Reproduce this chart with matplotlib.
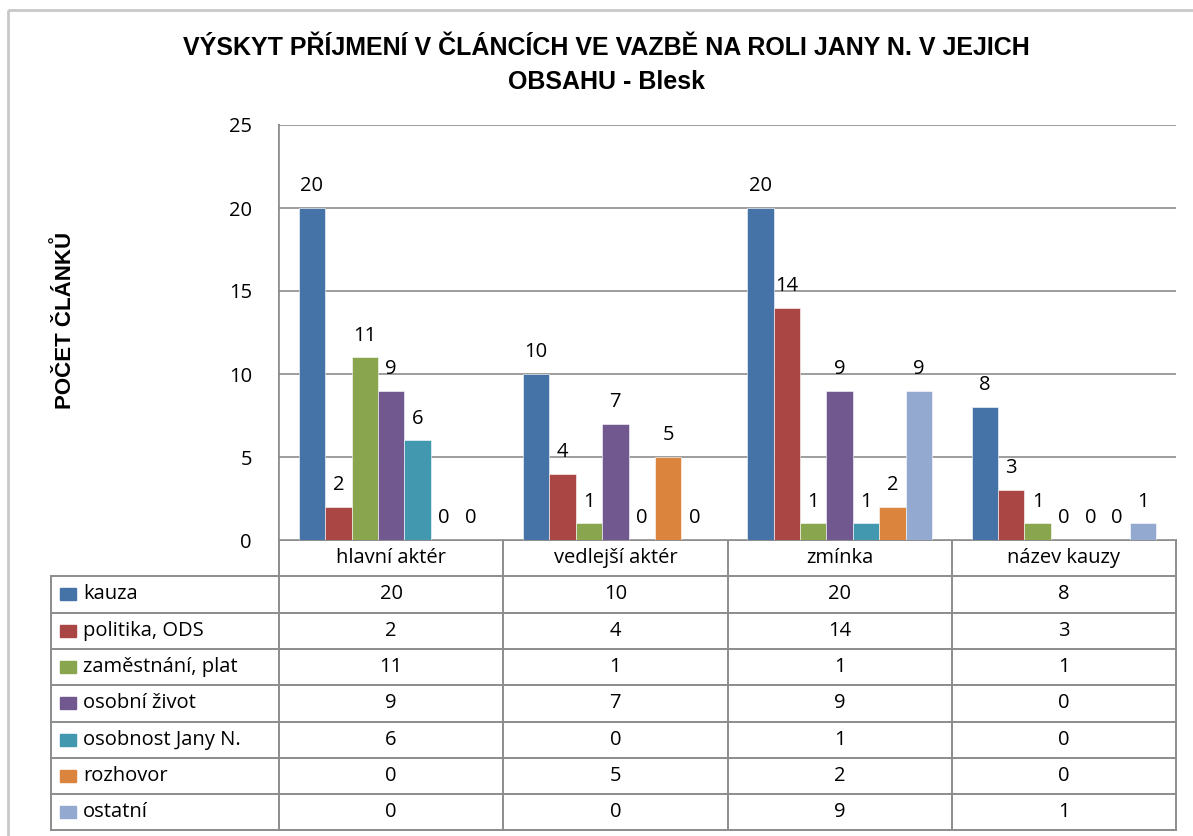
import matplotlib.pyplot as plt
from matplotlib.patches import Rectangle

# chart data
categories = ["hlavní aktér", "vedlejší aktér", "zmínka", "název kauzy"]
series_names = ["kauza", "politika, ODS", "zaměstnání, plat", "osobní život",
                "osobnost Jany N.", "rozhovor", "ostatní"]
kauza = [20, 10, 20, 8]
politika = [2, 4, 14, 3]
zamestnani = [11, 1, 1, 1]
osobni_zivot = [9, 7, 9, 0]
osobnost = [6, 0, 1, 0]
rozhovor = [0, 5, 2, 0]
ostatni = [0, 0, 9, 1]
series_values = [kauza, politika, zamestnani, osobni_zivot, osobnost, rozhovor, ostatni]
colors = ["#4572A7", "#AA4643", "#89A54E", "#71588F", "#4198AF", "#DB843D", "#93A9CF"]
y_ticks = [0, 5, 10, 15, 20, 25]

TITLE = "VÝSKYT PŘÍJMENÍ V ČLÁNCÍCH VE VAZBĚ NA ROLI JANY N. V JEJICH\nOBSAHU - Blesk"
YLABEL = "POČET ČLÁNKŮ"

BODY = ["Open Sans", "DejaVu Sans"]
BOLD = ["Liberation Sans", "DejaVu Sans"]
GRID = "#8c8c8c"
FS = 14.5

W, H = 1193, 836
fig = plt.figure(figsize=(W / 100, H / 100), dpi=100)

# layout in pixels
px_left, px_right = 279, 1176
px_top, px_zero = 125, 540
row_h = 36.3
leg_left = 51

ax = fig.add_axes([px_left / W, 1 - px_zero / H,
                   (px_right - px_left) / W, (px_zero - px_top) / H])
n_ser = len(series_values)
bw = 1 / (n_ser + 1.5)
for i, (vals, col) in enumerate(zip(series_values, colors)):
    xs = [c + (i - (n_ser - 1) / 2) * bw for c in range(len(categories))]
    bars = ax.bar(xs, vals, width=bw, color=col, edgecolor="white",
                  linewidth=0.4, zorder=3)
    for b, v in zip(bars, vals):
        ax.annotate(str(v), (b.get_x() + b.get_width() / 2, v),
                    xytext=(0, 8.5), textcoords="offset points",
                    ha="center", va="bottom", fontsize=FS, family=BODY)

ax.set_xlim(-0.5, len(categories) - 0.5)
ax.set_ylim(0, 25)
ax.set_yticks(y_ticks)
ax.set_yticklabels([str(t) for t in y_ticks], fontsize=FS, family=BODY)
ax.tick_params(axis="y", length=0, pad=19.5)
ax.tick_params(axis="x", length=0, labelbottom=False)
ax.yaxis.grid(True, color=GRID, linewidth=1.2, zorder=0)
for s in ["top", "right", "bottom"]:
    ax.spines[s].set_visible(False)
ax.spines["left"].set_color(GRID)
ax.spines["left"].set_linewidth(1.2)

# overlay in pixel coordinates for the data table and frame
lay = fig.add_axes([0, 0, 1, 1], zorder=-1)
lay.set_xlim(0, W)
lay.set_ylim(H, 0)
lay.axis("off")
lay.add_patch(Rectangle((8, 10), W, H, fill=False, edgecolor="#c8c8c8", linewidth=2))

col_w = (px_right - px_left) / len(categories)
hdr_bottom = px_zero + row_h
tbl_bottom = hdr_bottom + row_h * n_ser
lw = 1.4

# horizontal rules
lay.plot([px_left, px_right], [px_zero, px_zero], color=GRID, lw=lw)
for r in range(n_ser + 1):
    y = hdr_bottom + r * row_h
    lay.plot([leg_left, px_right], [y, y], color=GRID, lw=lw)
# vertical rules
lay.plot([leg_left, leg_left], [hdr_bottom, tbl_bottom], color=GRID, lw=lw)
for c in range(len(categories) + 1):
    x = px_left + c * col_w
    lay.plot([x, x], [px_zero if c else px_top, tbl_bottom], color=GRID, lw=lw)

for c, name in enumerate(categories):
    lay.text(px_left + (c + 0.5) * col_w, px_zero + row_h / 2, name,
             ha="center", va="center", fontsize=FS, family=BODY)

for r, (name, vals, col) in enumerate(zip(series_names, series_values, colors)):
    yc = hdr_bottom + (r + 0.5) * row_h
    lay.add_patch(Rectangle((leg_left + 9, yc - 6), 16, 12, color=col))
    lay.text(leg_left + 32, yc, name, ha="left", va="center", fontsize=FS, family=BODY)
    for c, v in enumerate(vals):
        lay.text(px_left + (c + 0.5) * col_w, yc, str(v),
                 ha="center", va="center", fontsize=FS, family=BODY)

fig.text(606 / W, 1 - 65 / H, TITLE, ha="center", va="center", fontsize=18,
         fontweight="bold", family=BOLD, linespacing=1.55)
fig.text(65 / W, 1 - 320 / H, YLABEL, ha="center", va="center", rotation=90,
         fontsize=16, fontweight="bold", family=BOLD)

fig.savefig("out.png", dpi=100)
